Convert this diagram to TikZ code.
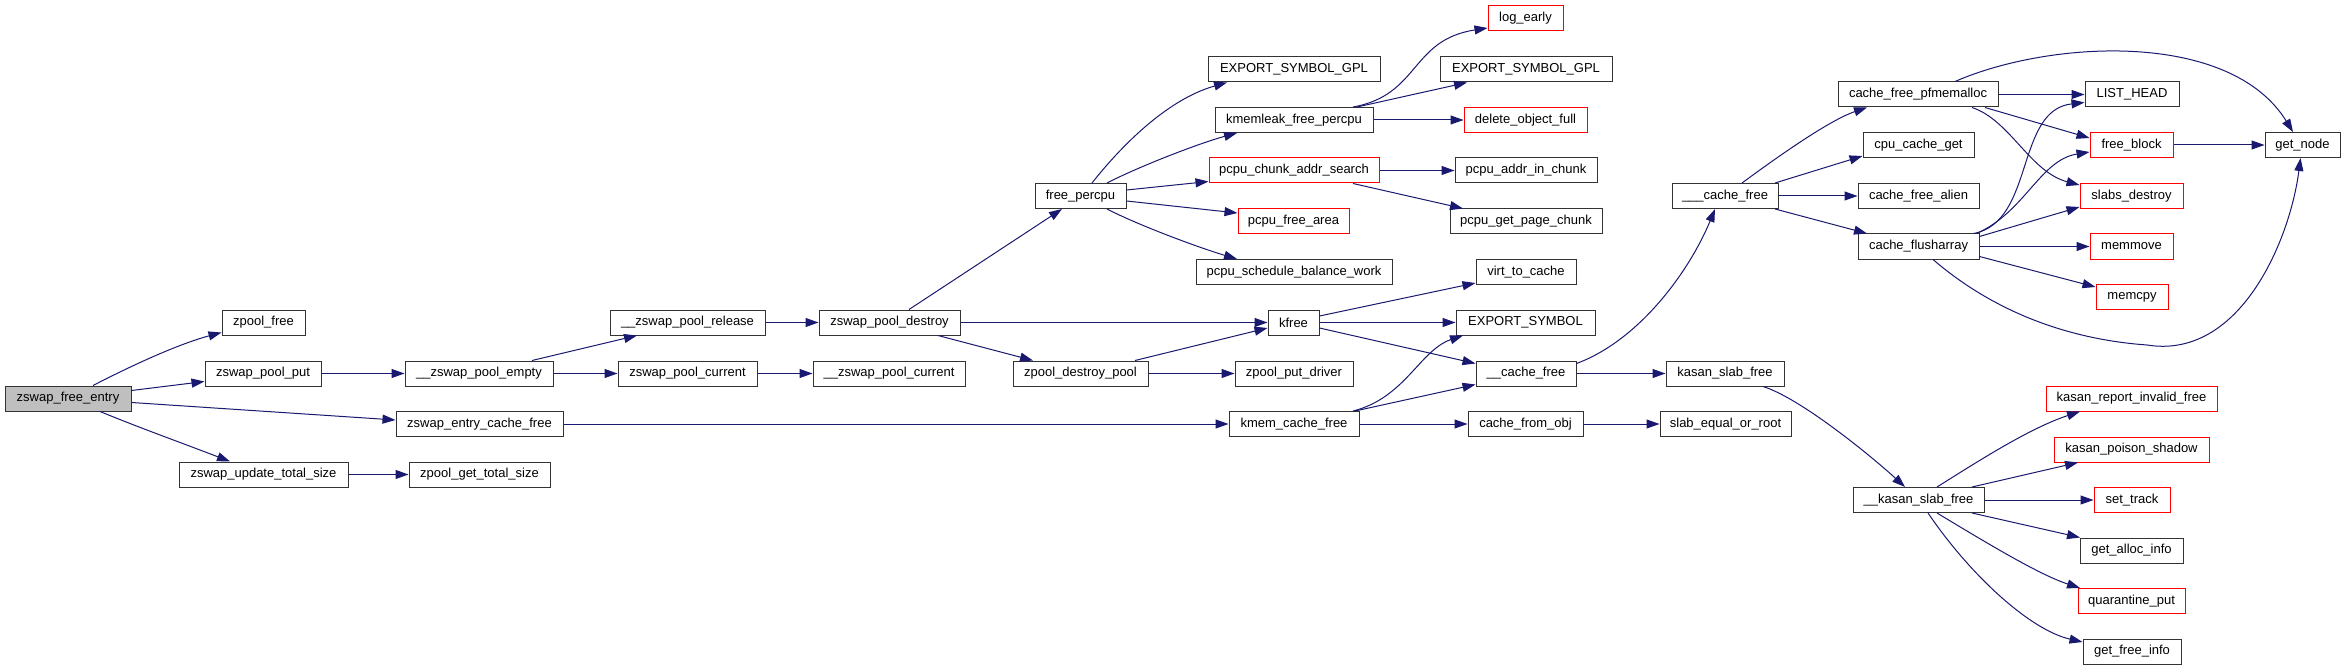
\documentclass[tikz,border=0pt]{standalone}
\usepackage{fontspec}
\setmainfont{Liberation Sans}
\usetikzlibrary{arrows.meta,calc}
\definecolor{eblue}{HTML}{191970}
\definecolor{bred}{HTML}{FF0000}
\definecolor{rootgray}{HTML}{BFBFBF}
\begin{document}
\begin{tikzpicture}[x=1pt,y=-1pt,
 box/.style={draw=black!80, line width=1pt, minimum height=25pt, inner sep=0pt, font=\fontsize{13}{15}\selectfont, fill=white},
 rbox/.style={box, draw=bred},
 cg/.style={draw=eblue, line width=1pt, -{Triangle[length=13pt,width=9pt]}},
]
\useasboundingbox[fill=white] (0,0) rectangle (2345,671);
% column 0-2
\node[box, fill=rootgray, minimum width=126pt] (efe) at (68,398.5) {zswap\_free\_entry};
\node[box, minimum width=83pt] (zpf) at (263.5,322.5) {zpool\_free};
\node[box, minimum width=116pt] (zpp) at (263,373.5) {zswap\_pool\_put};
\node[box, minimum width=169pt] (zuts) at (263.5,474.5) {zswap\_update\_total\_size};
\node[box, minimum width=167pt] (zecf) at (479.5,424) {zswap\_entry\_cache\_free};
\node[box, minimum width=148pt] (zpe) at (479,373.5) {\_\_zswap\_pool\_empty};
\node[box, minimum width=141pt] (zgts) at (479.5,474.5) {zpool\_get\_total\_size};
\node[box, minimum width=155pt] (zpr) at (687.5,322.5) {\_\_zswap\_pool\_release};
\node[box, minimum width=139pt] (zpc) at (687.5,373.5) {zswap\_pool\_current};
\node[box, minimum width=141pt] (zpd) at (889.5,322.5) {zswap\_pool\_destroy};
\node[box, minimum width=152pt] (zpc2) at (889,373.5) {\_\_zswap\_pool\_current};
\node[box, minimum width=91pt] (fp) at (1080.5,196) {free\_percpu};
\node[box, minimum width=135pt] (zdp) at (1080.5,373.5) {zpool\_destroy\_pool};
% column 1294
\node[box, minimum width=172pt] (esg1) at (1294,69.5) {EXPORT\_SYMBOL\_GPL};
\node[box, minimum width=158pt] (kfp) at (1294,120) {kmemleak\_free\_percpu};
\node[rbox, minimum width=170pt] (pcas) at (1294,170.5) {pcpu\_chunk\_addr\_search};
\node[rbox, minimum width=111pt] (pfa) at (1293.5,221.5) {pcpu\_free\_area};
\node[box, minimum width=196pt] (psbw) at (1294,272) {pcpu\_schedule\_balance\_work};
\node[box, minimum width=51pt] (kf) at (1293.5,322.5) {kfree};
\node[box, minimum width=118pt] (zpd2) at (1294,373.5) {zpool\_put\_driver};
\node[box, minimum width=130pt] (kcf) at (1294,424) {kmem\_cache\_free};
% column 1526
\node[rbox, minimum width=75pt] (le) at (1525.5,18.5) {log\_early};
\node[box, minimum width=172pt] (esg2) at (1526,69.5) {EXPORT\_SYMBOL\_GPL};
\node[rbox, minimum width=123pt] (dof) at (1525.5,120) {delete\_object\_full};
\node[box, minimum width=142pt] (paic) at (1526,170.5) {pcpu\_addr\_in\_chunk};
\node[box, minimum width=152pt] (pgpc) at (1526,221.5) {pcpu\_get\_page\_chunk};
\node[box, minimum width=100pt] (vtc) at (1526,272) {virt\_to\_cache};
\node[box, minimum width=139pt] (es) at (1525.5,322.5) {EXPORT\_SYMBOL};
\node[box, minimum width=100pt] (cf2) at (1526,373.5) {\_\_cache\_free};
\node[box, minimum width=115pt] (cfo) at (1525.5,424) {cache\_from\_obj};
% column 1725
\node[box, minimum width=106pt] (cf3) at (1725,196) {\_\_\_cache\_free};
\node[box, minimum width=118pt] (ksf) at (1725,373.5) {kasan\_slab\_free};
\node[box, minimum width=131pt] (seor) at (1725.5,424) {slab\_equal\_or\_root};
% column 1918
\node[box, minimum width=160pt] (cfp) at (1918,94.5) {cache\_free\_pfmemalloc};
\node[box, minimum width=111pt] (ccg) at (1918.5,145) {cpu\_cache\_get};
\node[box, minimum width=121pt] (cfa) at (1918.5,196) {cache\_free\_alien};
\node[box, minimum width=121pt] (cfl) at (1918.5,246.5) {cache\_flusharray};
\node[box, minimum width=131pt] (kksf) at (1918.5,500) {\_\_kasan\_slab\_free};
% column 2132
\node[box, minimum width=94pt] (lh) at (2132,94.5) {LIST\_HEAD};
\node[rbox, minimum width=83pt] (fb) at (2131.5,145) {free\_block};
\node[rbox, minimum width=103pt] (sd) at (2131.5,196) {slabs\_destroy};
\node[rbox, minimum width=83pt] (mm) at (2131.5,246.5) {memmove};
\node[rbox, minimum width=72pt] (mc) at (2132,297) {memcpy};
\node[rbox, minimum width=171pt] (krif) at (2131.5,398.5) {kasan\_report\_invalid\_free};
\node[rbox, minimum width=155pt] (kps) at (2131.5,449.5) {kasan\_poison\_shadow};
\node[rbox, minimum width=76pt] (st) at (2132,500) {set\_track};
\node[box, minimum width=103pt] (gai) at (2131.5,550.5) {get\_alloc\_info};
\node[rbox, minimum width=107pt] (qp) at (2131.5,601) {quarantine\_put};
\node[box, minimum width=98pt] (gfi) at (2132,651.5) {get\_free\_info};
\node[box, minimum width=75pt] (gn) at (2302.5,145) {get\_node};
% edges
\draw[cg] ($(efe.north)+(25,0)$) .. controls (125,369) and (175,345) .. ($(zpf.west)+(0,10)$);
\draw[cg] ($(efe.east)+(0,-8)$) -- ($(zpp.west)+(0,8)$);
\draw[cg] ($(efe.east)+(0,4)$) -- ($(zecf.west)+(0,-4)$);
\draw[cg] ($(efe.south)+(32,0)$) .. controls (140,428) and (190,446) .. ($(zuts.north)+(-33.5,0)$);
\draw[cg] (zpp.east) -- (zpe.west);
\draw[cg] ($(zpe.north)+(53,0)$) -- ($(zpr.south)+(-50.5,0)$);
\draw[cg] (zpe.east) -- (zpc.west);
\draw[cg] (zpc.east) -- (zpc2.west);
\draw[cg] (zpr.east) -- (zpd.west);
\draw[cg] ($(zpd.north)+(19.5,0)$) -- ($(fp.south)+(-18.5,0)$);
\draw[cg] (zpd.east) -- (kf.west);
\draw[cg] ($(zpd.south)+(48.5,0)$) -- ($(zdp.north)+(-47.5,0)$);
\draw[cg] ($(zdp.north)+(54.5,0)$) -- ($(kf.west)+(0,5.5)$);
\draw[cg] (zdp.east) -- (zpd2.west);
\draw[cg] (zecf.east) -- (kcf.west);
\draw[cg] (zuts.east) -- (zgts.west);
\draw[cg] ($(fp.north)+(11.5,0)$) .. controls (1118,150) and (1165,100) .. ($(esg1.south)+(-67,0)$);
\draw[cg] ($(fp.north)+(26.5,0)$) .. controls (1140,166) and (1200,143) .. ($(kfp.south)+(-57,0)$);
\draw[cg] ($(fp.east)+(0,-6)$) -- ($(pcas.west)+(0,11)$);
\draw[cg] ($(fp.east)+(0,5)$) -- ($(pfa.west)+(0,-8.5)$);
\draw[cg] ($(fp.south)+(26.5,0)$) .. controls (1140,226) and (1200,248) .. ($(psbw.north)+(-57,0)$);
\draw[cg] ($(kfp.north)+(59,0)$) .. controls (1420,95) and (1410,40) .. ($(le.west)+(0,9.5)$);
\draw[cg] ($(kfp.north)+(63,0)$) -- ($(esg2.south)+(-59,0)$);
\draw[cg] (kfp.east) -- (dof.west);
\draw[cg] (pcas.east) -- (paic.west);
\draw[cg] ($(pcas.south)+(59,0)$) -- ($(pgpc.north)+(-63,0)$);
\draw[cg] ($(kf.east)+(0,-6.5)$) -- ($(vtc.west)+(0,11)$);
\draw[cg] (kf.east) -- (es.west);
\draw[cg] ($(kf.east)+(0,5.5)$) -- ($(cf2.west)+(0,-10)$);
\draw[cg] ($(kcf.north)+(59,0)$) .. controls (1405,398) and (1420,350) .. ($(es.south)+(-62.5,0)$);
\draw[cg] ($(kcf.north)+(61,0)$) -- ($(cf2.west)+(0,11)$);
\draw[cg] (kcf.east) -- (cfo.west);
\draw[cg] (cfo.east) -- (seor.west);
\draw[cg] ($(cf2.east)+(0,-10)$) .. controls (1640,340) and (1690,270) .. ($(cf3.south)+(-10,0)$);
\draw[cg] (cf2.east) -- (ksf.west);
\draw[cg] ($(ksf.south)+(38,0)$) .. controls (1800,398) and (1870,455) .. ($(kksf.north)+(-13.5,0)$);
\draw[cg] ($(cf3.north)+(17,0)$) .. controls (1780,155) and (1830,120) .. ($(cfp.south)+(-51,0)$);
\draw[cg] ($(cf3.north)+(50,0)$) -- ($(ccg.west)+(0,11)$);
\draw[cg] (cf3.east) -- (cfa.west);
\draw[cg] ($(cf3.south)+(50,0)$) -- ($(cfl.north)+(-51.5,0)$);
\draw[cg] ($(cfp.north)+(37,0)$) .. controls (2050,40) and (2230,30) .. ($(gn.north)+(-9.5,0)$);
\draw[cg] (cfp.east) -- (lh.west);
\draw[cg] ($(cfp.south)+(67,0)$) -- ($(fb.west)+(0,-7)$);
\draw[cg] ($(cfp.south)+(54,0)$) .. controls (2010,120) and (2030,172) .. ($(sd.west)+(0,-11)$);
\draw[cg] ($(cfl.north)+(55,0)$) .. controls (2035,222) and (2015,110) .. ($(lh.west)+(0,8)$);
\draw[cg] ($(cfl.north)+(58,0)$) .. controls (2025,212) and (2040,160) .. ($(fb.west)+(0,7)$);
\draw[cg] ($(cfl.east)+(0,-10)$) -- ($(sd.west)+(0,11)$);
\draw[cg] (cfl.east) -- (mm.west);
\draw[cg] ($(cfl.east)+(0,10)$) -- ($(mc.west)+(0,-10)$);
\draw[cg] ($(cfl.south)+(14.5,0)$) .. controls (1980,300) and (2050,338) .. (2147,345) .. controls (2240,360) and (2290,240) .. ($(gn.south)+(-2,0)$);
\draw[cg] (fb.east) -- (gn.west);
\draw[cg] ($(kksf.north)+(18.5,0)$) .. controls (1980,460) and (2030,428) .. ($(krif.south)+(-51.5,0)$);
\draw[cg] ($(kksf.north)+(53.5,0)$) -- ($(kps.south)+(-53.5,0)$);
\draw[cg] (kksf.east) -- (st.west);
\draw[cg] ($(kksf.south)+(53.5,0)$) -- ($(gai.north)+(-51.5,0)$);
\draw[cg] ($(kksf.south)+(18.5,0)$) .. controls (1990,545) and (2040,575) .. ($(qp.north)+(-51.5,0)$);
\draw[cg] ($(kksf.south)+(9.5,0)$) .. controls (1970,575) and (2030,630) .. ($(gfi.west)+(0,-9.5)$);
\end{tikzpicture}
\end{document}
